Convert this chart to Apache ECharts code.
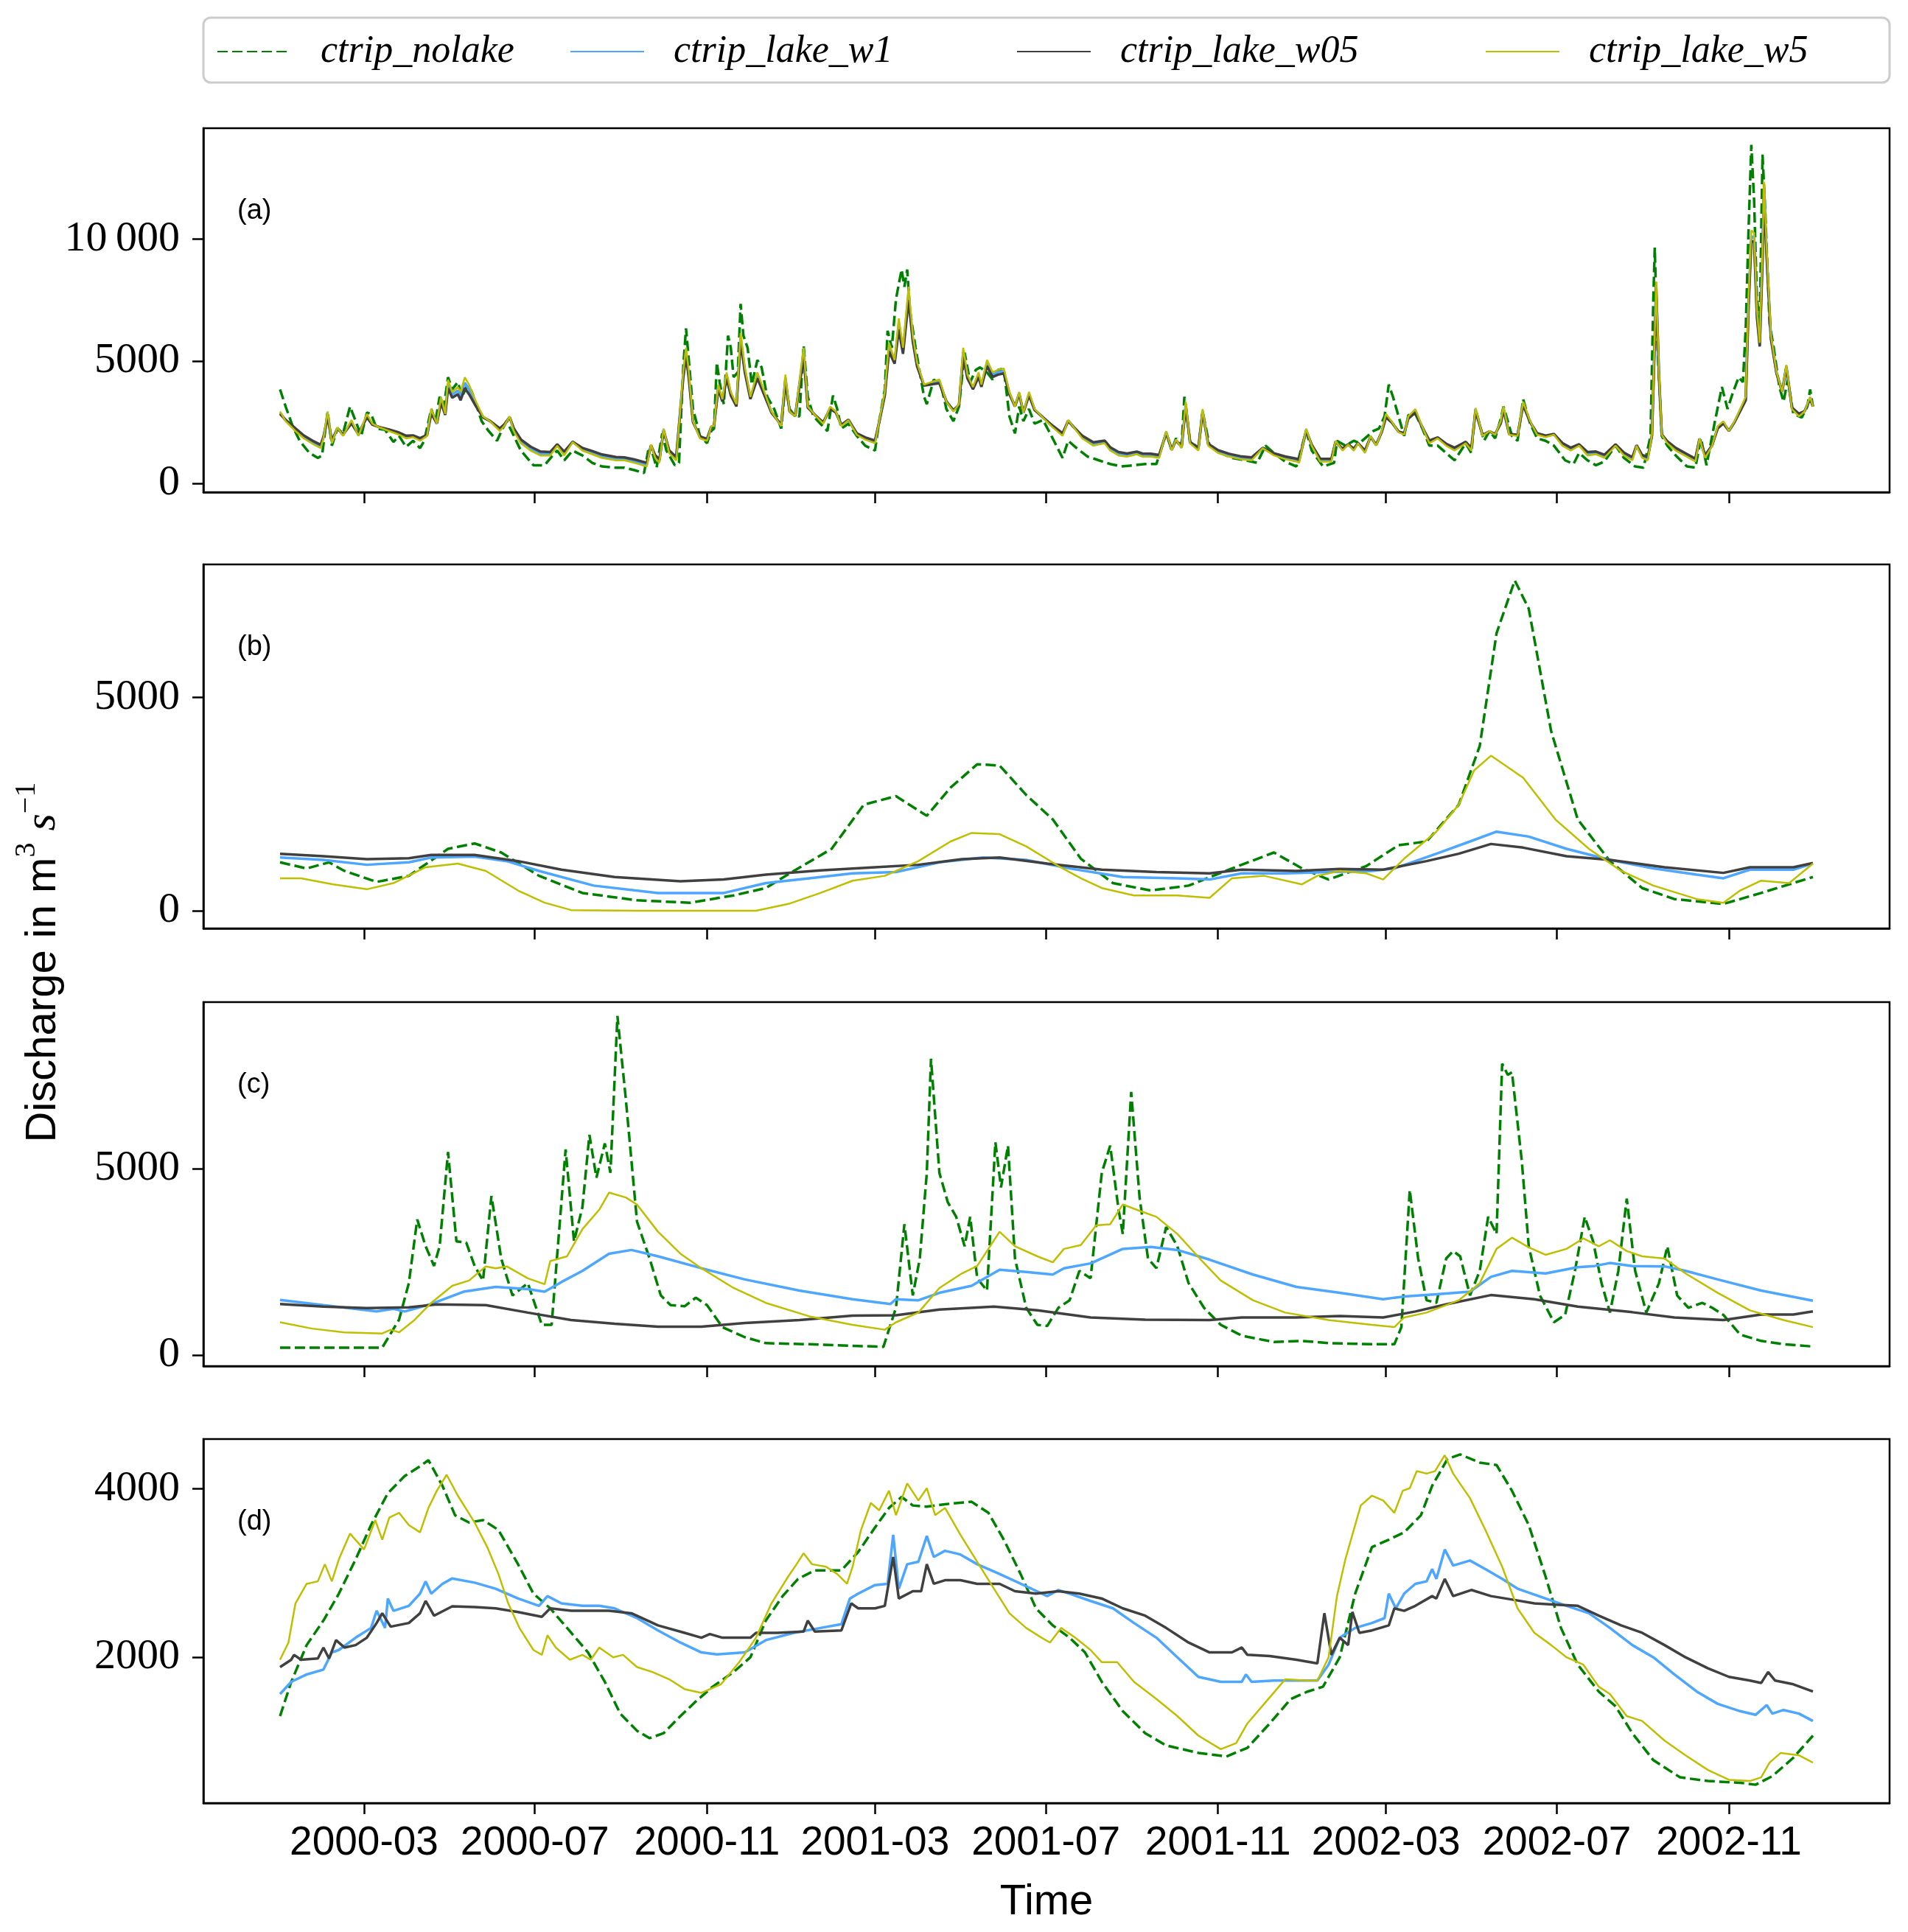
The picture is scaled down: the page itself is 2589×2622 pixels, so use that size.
<!DOCTYPE html>
<html>
<head>
<meta charset="utf-8">
<script src="https://cdn.jsdelivr.net/npm/echarts@6/dist/echarts.min.js"></script>
<style>
html, body { margin: 0; padding: 0; background: #fff; }
#chart { width: 2589px; height: 2622px; }
</style>
</head>
<body>
<div id="chart"></div>
<script>
// x is days since 2000-01-01
var xTickDays = [60, 182, 305, 425, 547, 670, 790, 912, 1035];
var xTickLabels = ['2000-03', '2000-07', '2000-11', '2001-03', '2001-07', '2001-11', '2002-03', '2002-07', '2002-11'];
var seriesNames = ['ctrip_nolake', 'ctrip_lake_w1', 'ctrip_lake_w05', 'ctrip_lake_w5'];
var panelLabels = ['(a)', '(b)', '(c)', '(d)'];
var yTicks = [[0, 5000, 10000], [0, 5000], [0, 5000], [2000, 4000]];

// (a) daily discharge, spiky
var aNolake = [[0,3844],[4,3143],[9,2342],[14,1742],[21,1241],[27,1041],[30,1141],[34,2943],[37,1542],[41,2242],[45,2042],[50,3143],[54,2543],[58,1942],[62,2893],[65,2843],[69,2242],[75,2192],[81,1692],[85,1942],[90,1491],[95,1742],[100,1441],[103,1742],[108,3043],[111,2543],[114,3544],[117,3143],[120,4344],[123,3844],[127,4144],[130,3544],[134,4044],[137,3744],[140,3243],[144,2543],[149,2142],[155,1742],[159,2242],[162,2543],[167,1942],[172,1341],[181,741],[189,741],[194,1091],[198,1341],[203,941],[209,1341],[216,1141],[223,841],[230,691],[240,641],[246,641],[253,541],[260,420],[263,1341],[266,1241],[269,641],[273,2042],[276,1341],[282,741],[285,841],[288,4745],[290,6346],[292,5045],[295,3043],[300,1942],[305,1642],[308,2142],[310,2242],[312,4945],[314,4144],[317,3243],[320,6046],[322,5546],[324,4344],[327,4545],[329,7347],[331,6046],[334,5546],[337,4044],[341,5045],[344,4745],[348,3544],[353,3043],[358,2242],[361,4044],[364,3043],[368,2743],[371,2743],[374,5646],[377,3544],[381,2743],[386,2442],[391,2142],[395,3594],[398,3043],[401,2242],[406,2442],[412,1942],[418,1542],[425,1341],[428,2543],[432,3844],[434,6246],[437,5546],[440,7548],[444,8749],[446,8048],[448,8749],[450,7047],[454,5546],[457,4545],[460,3544],[462,3243],[467,4245],[472,4044],[476,3043],[481,2543],[485,3143],[489,5346],[493,4144],[497,4645],[500,4745],[505,4545],[509,4245],[513,4645],[517,4695],[521,2743],[525,2042],[528,3143],[531,2543],[535,3043],[539,2442],[545,2593],[551,1942],[559,1041],[563,1742],[569,1441],[577,1091],[585,941],[593,791],[601,691],[610,741],[618,791],[626,791],[633,2042],[637,1341],[640,1842],[644,1542],[646,3544],[650,1742],[656,1441],[659,2943],[664,1542],[672,1241],[680,1041],[690,941],[698,841],[704,1542],[710,1241],[718,891],[726,691],[733,2142],[737,1341],[745,691],[753,841],[755,1742],[761,1542],[767,1742],[771,1642],[777,1942],[781,2142],[785,2242],[789,2743],[792,4044],[795,3544],[799,2743],[803,1942],[806,2793],[811,2843],[816,2242],[821,1542],[827,1542],[833,1241],[839,941],[847,1641],[851,1241],[854,3043],[860,1742],[864,2142],[868,1842],[872,2643],[874,3143],[880,1942],[884,1742],[888,3443],[893,2442],[898,1842],[904,1742],[910,1542],[918,941],[924,791],[928,1241],[934,941],[940,741],[946,891],[954,1542],[960,1041],[968,691],[974,641],[979,1942],[981,7548],[982,9650],[984,5546],[987,1942],[991,1542],[997,1141],[1005,691],[1011,641],[1015,1842],[1019,741],[1025,2543],[1030,3944],[1034,3043],[1038,3744],[1042,4345],[1045,4144],[1047,6346],[1049,10350],[1051,13854],[1053,11552],[1055,7548],[1057,6547],[1059,13453],[1061,11052],[1064,6547],[1067,5546],[1071,3944],[1074,3343],[1077,4245],[1081,2843],[1087,2693],[1091,3143],[1093,3844],[1095,3143]];

var aLakeDays = [0,4,11,17,24,29,31,34,37,41, 45,51,56,62,66,71,78,85,90,95, 100,105,108,112,115,118,120,123,127,129, 132,135,140,145,150,157,160,164,167,172, 179,186,193,198,203,209,216,223,230,240, 246,253,262,265,268,271,274,278,283,288, 290,292,295,300,305,308,310,313,316,319, 322,326,329,332,336,341,346,351,358,361, 364,368,374,377,383,388,393,397,401,406, 412,418,425,428,432,435,439,442,445,449, 452,455,460,465,471,476,481,485,488,491, 495,499,501,505,509,513,517,521,525,528, 531,535,539,545,551,559,563,567,573,581, 589,593,599,605,612,616,622,628,633,637, 640,644,647,650,656,659,663,670,678,686, 694,702,710,718,726,728,733,737,743,751, 754,759,763,767,770,775,779,783,787,790, 794,799,803,806,811,815,821,827,833,839, 847,851,854,859,864,868,872,874,878,884, 888,893,898,904,910,916,922,928,934,940, 946,954,960,966,969,973,977,980,982,983, 985,987,991,997,1005,1011,1014,1018,1023,1027, 1031,1035,1039,1043,1047,1049,1051,1053,1055,1057, 1059,1060,1062,1065,1069,1073,1076,1080,1085,1089, 1093,1095];

var aW1 = [2890,2570,2200,1900,1650,1510,1870,2820,1700,2270, 1970,2520,1980,2770,2420,2290,2170,2030,1890,1920, 1790,1960,2950,2440,3420,2820,4070,3620,3800,3570, 4120,3850,3250,2720,2550,2200,2370,2720,2200,1720, 1420,1220,1210,1570,1220,1700,1400,1260,1110,1010, 1000,910,770,1570,1100,910,2200,1300,1010,4420, 5380,4420,2520,1880,1780,2320,2350,3950,3400,4420, 3670,3200,5980,4650,3500,4420,3670,2920,2370,4330, 2950,2750,5380,3120,2750,2470,3100,2920,2370,2600, 2020,1840,1700,2520,3670,5580,4980,6530,5430,7780, 5930,4880,4020,4100,4180,3350,2970,3220,5380,4380, 3900,4450,4000,4930,4450,4550,4600,3700,3150,3700, 2900,3670,3020,2700,2370,2000,2570,2300,1900,1610, 1700,1410,1210,1160,1250,1160,1150,1100,2100,1370, 1770,1470,3250,1670,1400,2970,1580,1300,1150,1050, 1000,1440,1190,1050,950,910,2200,1560,950,950, 1720,1380,1600,1380,1650,1290,1920,1560,2120,2770, 2520,2110,2020,2700,2970,2420,1700,1860,1580,1400, 1670,1400,3020,1960,2130,2000,2500,3070,2010,1960, 3270,2520,2020,1920,2000,1600,1400,1570,1210,1250, 1100,1570,1200,1000,1550,1100,1000,1970,5920,8120, 4480,2000,1680,1400,1150,950,1830,1100,1550,2300, 2500,2150,2520,3000,3470,7380,10100,10080,6920,5680, 9320,12100,9380,5980,4520,3750,4800,3070,2800,2950, 3500,3150];

var aW05 = [2840,2600,2250,1960,1720,1580,1900,2700,1750,2250, 2000,2450,2020,2700,2400,2300,2200,2080,1950,1960, 1850,1980,2850,2450,3300,2800,3900,3500,3650,3400, 3900,3650,3150,2700,2550,2250,2400,2700,2250,1800, 1500,1300,1280,1600,1300,1700,1450,1320,1180,1080, 1060,980,840,1550,1150,980,2150,1350,1080,4300, 5200,4300,2500,1920,1820,2300,2350,3850,3350,4300, 3600,3150,5800,4550,3450,4300,3600,2900,2400,4200, 2950,2750,5200,3100,2750,2500,3050,2900,2400,2600, 2050,1880,1750,2500,3600,5400,4900,6300,5300,7500, 5800,4800,4000,4050,4100,3350,3000,3200,5200,4300, 3850,4350,3950,4800,4350,4450,4500,3650,3150,3650, 2900,3600,3000,2700,2400,2050,2550,2300,1950,1680, 1750,1480,1280,1220,1300,1220,1210,1160,2050,1400, 1750,1500,3150,1700,1450,2900,1620,1360,1210,1110, 1060,1450,1230,1100,1010,970,2150,1580,1010,1000, 1700,1420,1600,1420,1650,1340,1900,1580,2100,2700, 2500,2120,2050,2650,2900,2400,1750,1880,1620,1460, 1700,1450,2950,1980,2120,2020,2450,3000,2030,1980, 3200,2500,2050,1950,2020,1650,1460,1600,1280,1300, 1170,1600,1260,1070,1560,1160,1070,1950,5800,8000, 4400,2000,1720,1450,1200,1010,1820,1150,1560,2250, 2450,2150,2500,2950,3400,7200,9900,9900,6800,5600, 9100,11800,9200,5900,4500,3750,4750,3100,2850,2950, 3450,3150];

var aW5 = [2940,2540,2140,1840,1590,1440,1840,2940,1640,2290, 1940,2590,1940,2840,2440,2290,2140,1990,1840,1890, 1740,1940,3040,2440,3540,2840,4240,3740,3940,3740, 4340,4040,3340,2740,2540,2140,2340,2740,2140,1640, 1340,1140,1140,1540,1140,1690,1340,1190,1040,940, 940,840,690,1590,1040,840,2240,1240,940,4540, 5550,4540,2540,1840,1740,2340,2340,4040,3440,4540, 3740,3240,6150,4750,3540,4540,3740,2940,2340,4450, 2940,2740,5550,3140,2740,2440,3140,2940,2340,2590, 1990,1790,1640,2540,3740,5750,5050,6750,5550,8050, 6050,4950,4040,4140,4250,3340,2940,3240,5550,4450, 3940,4550,4040,5050,4550,4650,4700,3740,3140,3740, 2890,3740,3040,2690,2340,1940,2590,2290,1840,1540, 1640,1340,1140,1090,1190,1090,1090,1040,2140,1340, 1790,1440,3340,1640,1340,3040,1540,1240,1090,990, 940,1440,1140,990,890,840,2240,1540,890,890, 1740,1340,1590,1340,1640,1240,1940,1540,2140,2840, 2540,2090,1990,2740,3040,2440,1640,1840,1540,1340, 1640,1340,3090,1940,2140,1990,2540,3140,1990,1940, 3340,2540,1990,1890,1990,1540,1340,1540,1140,1190, 1040,1540,1140,940,1540,1040,940,1990,6050,8250, 4550,1990,1640,1340,1090,890,1840,1040,1540,2340, 2540,2140,2540,3040,3540,7550,10350,10250,7050,5750, 9550,12350,9550,6050,4550,3740,4850,3040,2740,2940, 3540,3140];

// (b)
var bNolake = [[0,1136],[19,993],[35,1136],[46,935],[69,677],[92,820],[120,1452],[139,1579],[158,1366],[185,820],[216,418],[255,246],[293,189],[324,361],[347,533],[367,935],[394,1452],[417,2487],[440,2688],[462,2228],[479,2889],[498,3435],[514,3406],[533,2716],[552,2142],[572,1223],[595,648],[622,476],[649,591],[680,993],[710,1366],[730,993],[749,734],[776,1050],[799,1539],[819,1625],[842,2487],[857,3865],[869,6508],[882,7743],[892,7082],[908,4210],[927,2142],[950,1165],[973,533],[996,275],[1031,160],[1058,418],[1095,792]];
var bW1 = [[0,1251],[31,1194],[62,1079],[92,1136],[108,1251],[139,1269],[162,1165],[185,935],[224,591],[270,418],[317,418],[347,648],[378,763],[409,878],[440,907],[471,1136],[502,1251],[533,1194],[564,993],[602,792],[641,763],[664,734],[687,878],[718,878],[749,907],[780,935],[796,993],[826,1338],[850,1625],[869,1855],[892,1740],[919,1452],[950,1194],[981,993],[1012,849],[1031,763],[1050,964],[1081,964],[1095,1108]];
var bW05 = [[0,1338],[31,1280],[62,1211],[92,1234],[108,1309],[139,1309],[170,1165],[201,964],[239,792],[286,694],[317,734],[347,849],[386,947],[425,1022],[456,1079],[487,1211],[514,1251],[548,1108],[587,964],[626,907],[664,878],[687,964],[726,935],[757,981],[788,964],[819,1165],[842,1338],[865,1567],[888,1481],[919,1280],[950,1194],[989,1022],[1031,889],[1050,1022],[1081,1022],[1095,1119]];
var bW5 = [[0,763],[15,763],[38,620],[62,505],[81,648],[104,1022],[127,1108],[147,935],[170,476],[189,189],[208,16],[255,0],[340,0],[363,160],[386,418],[409,706],[432,820],[456,1165],[479,1625],[494,1826],[514,1797],[533,1510],[556,1050],[572,763],[587,533],[610,361],[641,361],[664,303],[680,763],[703,820],[730,620],[741,820],[757,935],[776,878],[788,734],[803,1223],[826,1855],[842,2487],[853,3291],[865,3636],[888,3119],[911,2142],[935,1452],[958,935],[981,591],[1012,275],[1031,189],[1043,476],[1058,706],[1078,648],[1095,1108]];

// (c)
var cNolake = [[0,200],[73,200],[85,950],[92,1930],[98,3640],[104,2920],[110,2390],[114,2920],[120,5450],[126,3050],[133,3020],[139,2390],[145,2000],[151,4270],[158,2590],[166,1600],[177,1930],[187,810],[194,810],[204,5520],[210,3050],[216,3970],[221,5910],[226,4760],[232,5680],[236,4890],[241,9100],[247,6870],[255,3580],[264,2590],[272,1600],[279,1340],[289,1310],[297,1540],[305,1340],[316,750],[332,480],[347,320],[378,290],[409,250],[431,220],[440,1270],[446,3510],[452,1600],[457,2590],[462,4890],[465,7950],[471,4890],[477,4100],[483,3710],[489,2920],[493,3710],[498,2060],[505,1730],[511,5710],[515,4500],[520,5620],[525,2590],[533,1270],[541,810],[548,780],[556,1270],[564,1470],[571,2260],[579,2060],[587,4890],[593,5620],[599,3900],[602,3250],[608,7060],[614,4230],[620,2590],[626,2330],[633,3440],[641,2920],[649,1930],[660,1270],[672,810],[687,520],[710,350],[730,380],[749,320],[780,290],[796,290],[801,750],[807,4430],[813,2590],[819,1470],[826,1400],[833,2590],[838,2790],[843,2650],[850,1600],[857,2260],[863,3710],[869,3250],[873,7820],[877,7520],[880,7590],[887,5220],[892,2920],[900,1600],[910,880],[918,1080],[925,2260],[932,3710],[938,3050],[944,1930],[950,1140],[956,2260],[962,4200],[968,2260],[976,1140],[985,1930],[991,2920],[998,1600],[1006,1270],[1016,1400],[1023,1270],[1031,1080],[1043,550],[1058,380],[1074,290],[1095,230]];
var cW1 = [[0,1480],[31,1340],[69,1170],[81,1240],[89,1170],[108,1370],[131,1700],[154,1830],[177,1770],[189,1700],[201,1960],[216,2260],[235,2720],[251,2820],[270,2650],[301,2330],[332,2030],[371,1730],[409,1500],[436,1370],[440,1500],[456,1470],[471,1670],[494,1860],[514,2290],[533,2230],[552,2160],[560,2330],[579,2460],[602,2850],[622,2900],[641,2820],[664,2560],[695,2160],[726,1830],[757,1670],[788,1500],[796,1540],[803,1570],[826,1630],[850,1700],[865,2100],[880,2260],[904,2190],[927,2360],[939,2390],[950,2470],[966,2390],[989,2380],[1004,2260],[1027,2030],[1058,1730],[1095,1460]];
var cW05 = [[0,1370],[31,1300],[62,1260],[92,1280],[112,1360],[147,1340],[177,1140],[208,940],[239,840],[270,760],[301,760],[332,860],[371,940],[409,1060],[440,1070],[471,1220],[510,1300],[541,1200],[579,1010],[618,950],[664,940],[687,1010],[726,1010],[757,1050],[788,1010],[811,1170],[834,1370],[865,1610],[896,1500],[927,1300],[966,1150],[996,1010],[1031,940],[1058,1090],[1081,1090],[1095,1170]];
var cW5 = [[0,880],[23,710],[46,610],[73,580],[79,680],[85,610],[96,940],[108,1400],[123,1860],[135,2000],[147,2380],[154,2330],[162,2380],[177,2060],[189,1900],[193,2520],[205,2650],[216,3380],[228,3900],[235,4360],[247,4230],[255,4040],[270,3310],[286,2720],[301,2330],[324,1800],[347,1400],[378,1040],[409,810],[432,680],[440,880],[456,1140],[471,1800],[487,2190],[498,2390],[514,3310],[525,2920],[541,2650],[552,2490],[560,2850],[572,2950],[583,3480],[593,3510],[602,4040],[614,3870],[626,3710],[641,3250],[657,2590],[672,2000],[695,1470],[718,1140],[749,940],[780,810],[796,750],[803,1010],[819,1140],[842,1470],[857,1930],[869,2850],[880,3150],[892,2890],[904,2690],[919,2850],[931,3130],[942,2920],[950,3080],[962,2790],[973,2650],[989,2590],[1004,2190],[1027,1670],[1050,1200],[1074,940],[1095,750]];

// (d)
var dNolake = [[0,1297],[8,1705],[19,2142],[31,2434],[42,2754],[54,3162],[65,3570],[77,3949],[89,4153],[100,4270],[106,4342],[116,4037],[125,3687],[135,3600],[145,3629],[156,3512],[170,3104],[181,2754],[193,2579],[208,2288],[220,2055],[232,1705],[243,1327],[255,1123],[264,1035],[274,1094],[286,1297],[297,1472],[309,1647],[324,1822],[336,1997],[347,2434],[359,2725],[370,2929],[382,3031],[401,3031],[413,3250],[425,3541],[435,3774],[444,3905],[452,3803],[462,3789],[475,3818],[494,3847],[506,3716],[517,3396],[529,2988],[540,2579],[552,2376],[564,2230],[575,2055],[587,1705],[602,1356],[618,1094],[633,948],[656,860],[676,817],[691,919],[707,1210],[722,1501],[734,1589],[745,1647],[757,1997],[768,2754],[780,3308],[792,3396],[803,3483],[815,3687],[823,4037],[834,4357],[843,4410],[857,4313],[869,4284],[880,3978],[892,3570],[904,2958],[915,2346],[927,1909],[942,1589],[954,1414],[966,1094],[981,773],[1000,569],[1020,525],[1043,505],[1054,481],[1066,583],[1081,802],[1095,1065]];
var dW1 = [[0,1560],[8,1705],[19,1793],[31,1851],[37,2055],[42,2084],[54,2230],[65,2346],[69,2550],[75,2346],[77,2696],[81,2550],[92,2609],[100,2754],[104,2900],[108,2754],[116,2871],[123,2935],[139,2885],[154,2813],[170,2696],[185,2609],[191,2725],[201,2638],[216,2609],[228,2609],[239,2579],[255,2463],[270,2317],[286,2172],[301,2055],[312,2032],[332,2055],[347,2201],[367,2288],[386,2346],[401,2390],[407,2696],[413,2754],[425,2856],[434,2871],[438,3454],[442,2813],[448,3104],[456,3133],[462,3439],[467,3191],[475,3264],[486,3220],[498,3104],[514,2988],[533,2842],[548,2725],[556,2798],[564,2754],[579,2667],[595,2579],[610,2405],[626,2230],[641,1997],[656,1764],[672,1705],[687,1705],[690,1793],[694,1705],[710,1720],[726,1720],[741,1720],[749,1909],[757,2230],[768,2346],[780,2405],[789,2463],[792,2754],[797,2579],[803,2754],[811,2871],[819,2900],[823,3046],[826,2929],[832,3279],[838,3089],[850,3148],[861,3046],[873,2929],[884,2813],[904,2696],[919,2609],[935,2521],[950,2346],[966,2142],[981,1997],[996,1793],[1012,1589],[1027,1443],[1043,1356],[1054,1312],[1062,1429],[1066,1327],[1074,1370],[1085,1327],[1095,1239]];
var dW05 = [[0,1880],[8,1968],[10,2026],[15,1968],[27,1983],[31,2113],[35,1983],[40,2201],[46,2113],[54,2142],[62,2230],[69,2405],[73,2521],[79,2361],[92,2405],[100,2521],[104,2667],[110,2492],[123,2603],[139,2594],[154,2579],[170,2536],[187,2478],[193,2579],[208,2550],[224,2550],[235,2550],[251,2521],[270,2376],[289,2288],[301,2230],[307,2274],[316,2230],[336,2230],[340,2288],[355,2288],[374,2303],[377,2434],[382,2303],[401,2317],[408,2638],[413,2579],[425,2579],[432,2609],[438,3191],[442,2696],[452,2783],[458,2783],[462,3104],[467,2871],[475,2914],[486,2914],[498,2871],[514,2871],[525,2783],[540,2754],[556,2783],[571,2754],[587,2696],[602,2579],[618,2492],[633,2346],[649,2172],[664,2055],[680,2055],[687,2113],[691,2026],[707,2011],[726,1968],[741,1924],[746,2521],[751,2026],[757,2230],[763,2142],[766,2536],[771,2288],[780,2317],[792,2376],[796,2579],[803,2550],[811,2609],[823,2725],[826,2696],[832,2929],[838,2725],[851,2798],[865,2725],[881,2681],[896,2638],[911,2623],[927,2609],[942,2492],[958,2376],[973,2288],[989,2142],[1004,1997],[1020,1866],[1035,1764],[1050,1720],[1058,1691],[1063,1822],[1068,1720],[1081,1676],[1095,1589]];
var dW5 = [[0,1968],[6,2172],[11,2638],[19,2871],[27,2900],[32,3104],[37,2900],[42,3162],[50,3468],[60,3279],[68,3629],[73,3396],[78,3658],[85,3716],[92,3570],[100,3483],[106,3774],[112,3978],[119,4168],[127,3920],[139,3600],[148,3308],[156,2988],[163,2638],[171,2346],[181,2084],[187,2026],[191,2259],[197,2113],[207,1968],[216,2026],[222,1968],[228,2113],[238,1997],[245,2026],[255,1880],[266,1822],[278,1735],[289,1618],[301,1574],[315,1676],[328,1939],[340,2230],[351,2638],[363,2958],[369,3104],[374,3235],[380,3104],[390,3075],[398,2988],[405,2871],[409,3075],[415,3512],[422,3833],[428,3745],[435,3978],[440,3687],[448,4066],[456,3862],[462,4008],[468,3687],[475,3774],[486,3454],[498,3133],[510,2813],[521,2521],[533,2346],[544,2230],[550,2172],[558,2346],[568,2230],[579,2084],[587,1939],[598,1939],[610,1705],[626,1501],[641,1297],[656,1065],[672,904],[683,977],[691,1210],[703,1443],[718,1735],[734,1720],[741,1720],[749,1997],[755,2725],[761,3162],[766,3454],[772,3803],[780,3920],[788,3862],[796,3716],[802,3978],[807,4008],[812,4211],[819,4182],[825,4211],[832,4401],[838,4182],[850,3891],[861,3512],[873,3075],[884,2579],[896,2288],[908,2142],[919,1997],[931,1909],[942,1647],[950,1560],[962,1297],[973,1239],[989,1006],[1004,831],[1020,656],[1035,540],[1050,525],[1058,569],[1064,744],[1072,860],[1085,831],[1095,744]];

var chart = echarts.init(document.getElementById('chart'));

var gridLeft = 276, gridWidth = 2288, gridHeight = 494;
var gridTops = [174, 766, 1360, 1953];
var yRanges = [[-363, 14535], [-413, 8120], [-296, 9471], [263, 4593]];

var lineStyles = {
    ctrip_nolake: { color: '#008000', width: 3.5, type: [14, 6] },
    ctrip_lake_w1: { color: '#4da6ff', width: 3.5, type: 'solid' },
    ctrip_lake_w05: { color: '#404040', width: 3.5, type: 'solid' },
    ctrip_lake_w5: { color: '#bfbf00', width: 2.5, type: 'solid' }
};

function zip(days, vals) {
    var out = [];
    for (var i = 0; i < days.length; i++) out.push([days[i], vals[i]]);
    return out;
}

var panelData = [
    [aNolake, zip(aLakeDays, aW1), zip(aLakeDays, aW05), zip(aLakeDays, aW5)],
    [bNolake, bW1, bW05, bW5],
    [cNolake, cW1, cW05, cW5],
    [dNolake, dW1, dW05, dW5]
];

var grids = [], xAxes = [], yAxes = [], series = [], graphics = [];
var axisLine = { show: true, onZero: false, lineStyle: { color: '#000', width: 2.5 } };

gridTops.forEach(function (top, i) {
    grids.push({ left: gridLeft, top: top, width: gridWidth, height: gridHeight,
        show: true, borderColor: '#000', borderWidth: 2.5, backgroundColor: '#fff' });
    xAxes.push({
        type: 'value', gridIndex: i, min: -54.75, max: 1149.75,
        splitLine: { show: false },
        axisLine: axisLine,
        axisTick: { show: true, inside: false, length: 15, lineStyle: { color: '#000', width: 2.5 }, customValues: xTickDays },
        axisLabel: {
            show: i === 3, customValues: xTickDays, margin: 27,
            fontFamily: 'Liberation Sans', fontSize: 55, color: '#000',
            formatter: function (v) { return xTickLabels[xTickDays.indexOf(Math.round(v))] || ''; }
        }
    });
    yAxes.push({
        type: 'value', gridIndex: i, min: yRanges[i][0], max: yRanges[i][1],
        splitLine: { show: false },
        axisLine: axisLine,
        axisTick: { show: true, inside: false, length: 15, lineStyle: { color: '#000', width: 2.5 }, customValues: yTicks[i] },
        axisLabel: {
            customValues: yTicks[i], margin: 32,
            fontFamily: 'Liberation Serif', fontSize: 58, color: '#000',
            formatter: function (v) { return v >= 10000 ? '10\u2009000' : String(v); }
        }
    });
    seriesNames.forEach(function (name, k) {
        series.push({
            name: name, type: 'line', xAxisIndex: i, yAxisIndex: i,
            data: panelData[i][k], symbol: 'none', showSymbol: false,
            lineStyle: lineStyles[name], itemStyle: { color: lineStyles[name].color },
            silent: true, clip: true, z: 2 + k
        });
    });
    graphics.push({
        type: 'text', x: 322, y: top + 113,
        style: { text: panelLabels[i], font: '38px "Liberation Sans"', fill: '#000', verticalAlign: 'middle' }
    });
});

// legend frame
graphics.push({
    type: 'rect', z: -1,
    shape: { x: 276, y: 24, width: 2288, height: 88, r: 10 },
    style: { fill: '#fff', stroke: '#cccccc', lineWidth: 3 }
});
// axis titles
graphics.push({
    type: 'text', x: 52, y: 1306, rotation: Math.PI / 2,
    style: {
        text: '{r|Discharge in m}{sup|3}{r| }{i|s}{sup|\u22121}', align: 'center', verticalAlign: 'middle',
        rich: {
            r: { fontFamily: 'Liberation Sans', fontSize: 58, fill: '#000', lineHeight: 72, verticalAlign: 'bottom' },
            i: { fontFamily: 'Liberation Serif', fontStyle: 'italic', fontSize: 60, fill: '#000', lineHeight: 72, verticalAlign: 'bottom' },
            sup: { fontFamily: 'Liberation Serif', fontSize: 40, fill: '#000', lineHeight: 72, verticalAlign: 'top' }
        }
    }
});
graphics.push({
    type: 'text', x: 1420, y: 2582,
    style: { text: 'Time', font: '58px "Liberation Sans"', fill: '#000', align: 'center', verticalAlign: 'middle' }
});

var legendLefts = [294, 773, 1379, 2015];
var legends = seriesNames.map(function (name, k) {
    return {
        data: [name], left: legendLefts[k], top: 40, padding: 0,
        itemWidth: 100, itemHeight: 14, selectedMode: false,
        itemStyle: { opacity: 0 },
        textStyle: { fontFamily: 'Liberation Serif', fontStyle: 'italic', fontSize: 52,
            color: '#000', lineHeight: 60, padding: [0, 0, 0, 35] }
    };
});

var option = {
    animation: false,
    backgroundColor: '#fff',
    legend: legends,
    grid: grids,
    xAxis: xAxes,
    yAxis: yAxes,
    series: series,
    graphic: graphics
};
chart.setOption(option);
</script>
</body>
</html>
